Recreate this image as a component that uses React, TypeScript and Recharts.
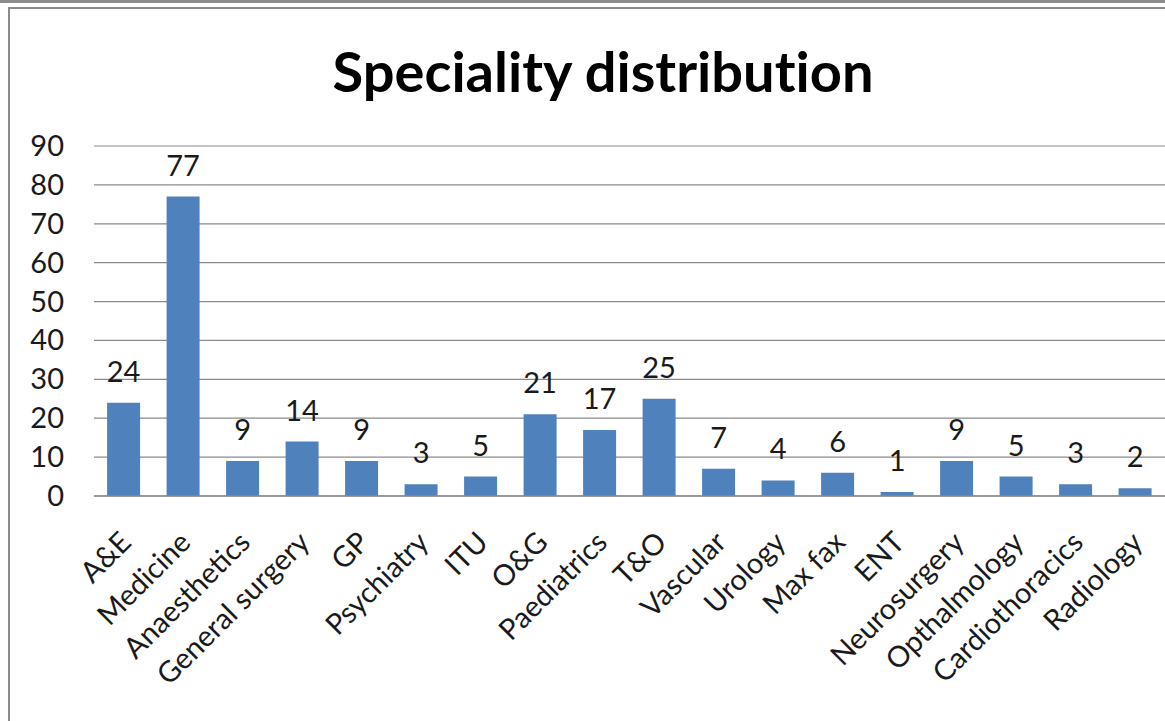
import React from "react";
import { BarChart, Bar, XAxis, YAxis, CartesianGrid, LabelList } from "recharts";

const specialities = [
  "A&E", "Medicine", "Anaesthetics", "General surgery", "GP", "Psychiatry", "ITU", "O&G",
  "Paediatrics", "T&O", "Vascular", "Urology", "Max fax", "ENT", "Neurosurgery",
  "Opthalmology", "Cardiothoracics", "Radiology",
];
const counts = [24, 77, 9, 14, 9, 3, 5, 21, 17, 25, 7, 4, 6, 1, 9, 5, 3, 2];
const yTicks = [0, 10, 20, 30, 40, 50, 60, 70, 80, 90];

const data = specialities.map((name, i) => ({ name, value: counts[i] }));

const FONT = "Lato, 'Open Sans', sans-serif";
const TEXT = "#1a1a1a";
const FS = 29;

const YTick = (props: any) => {
  const { y, payload } = props;
  return (
    <text x={64} y={y} dy={10} textAnchor="end" fontSize={FS} fontFamily={FONT} fill={TEXT}>
      {payload.value}
    </text>
  );
};

const XTick = (props: any) => {
  const { x, y, payload } = props;
  return (
    <g transform={`translate(${x - 5},${y + 26}) rotate(-45)`}>
      <text x={0} y={0} dy={20} textAnchor="end" fontSize={FS} fontFamily={FONT} fill={TEXT}>
        {payload.value}
      </text>
    </g>
  );
};

export default function App() {
  return (
    <div style={{ position: "absolute", left: 0, top: 0, width: 1165, height: 721, background: "#fff", overflow: "hidden" }}>
      <div style={{ position: "absolute", left: 0, top: 0, width: 1165, height: 3, background: "#8c8c8c" }} />
      <div style={{ position: "absolute", left: 8, top: 7, width: 1157, height: 2, background: "#8c8c8c" }} />
      <div style={{ position: "absolute", left: 8, top: 7, width: 2, height: 714, background: "#8c8c8c" }} />
      <svg style={{ position: "absolute", left: 0, top: 0 }} width={1165} height={130}>
        <text
          x={603}
          y={92}
          textAnchor="middle"
          fontFamily={FONT}
          fontWeight={700}
          fontSize={56}
          fill="#000"
          style={{ fontVariantLigatures: "none" }}
        >
          Speciality distribution
        </text>
      </svg>
      <div style={{ position: "absolute", left: 0, top: 0 }}>
        <BarChart
          width={1165}
          height={721}
          data={data}
          margin={{ top: 146, right: 0, left: 0, bottom: 0 }}
          barCategoryGap="22%"
        >
          <CartesianGrid horizontal vertical={false} stroke="#8a8a8a" strokeWidth={1.2} />
          <YAxis
            width={94}
            domain={[0, 90]}
            ticks={yTicks}
            axisLine={false}
            tickLine={false}
            tick={<YTick />}
            interval={0}
          />
          <XAxis
            dataKey="name"
            height={225}
            interval={0}
            tick={<XTick />}
            tickLine={false}
            axisLine={{ stroke: "#8a8a8a", strokeWidth: 1.5 }}
          />
          <Bar dataKey="value" fill="#4F81BD" isAnimationActive={false}>
            <LabelList
              dataKey="value"
              position="top"
              offset={21}
              fontSize={FS}
              fontFamily={FONT}
              fill={TEXT}
            />
          </Bar>
        </BarChart>
      </div>
    </div>
  );
}
